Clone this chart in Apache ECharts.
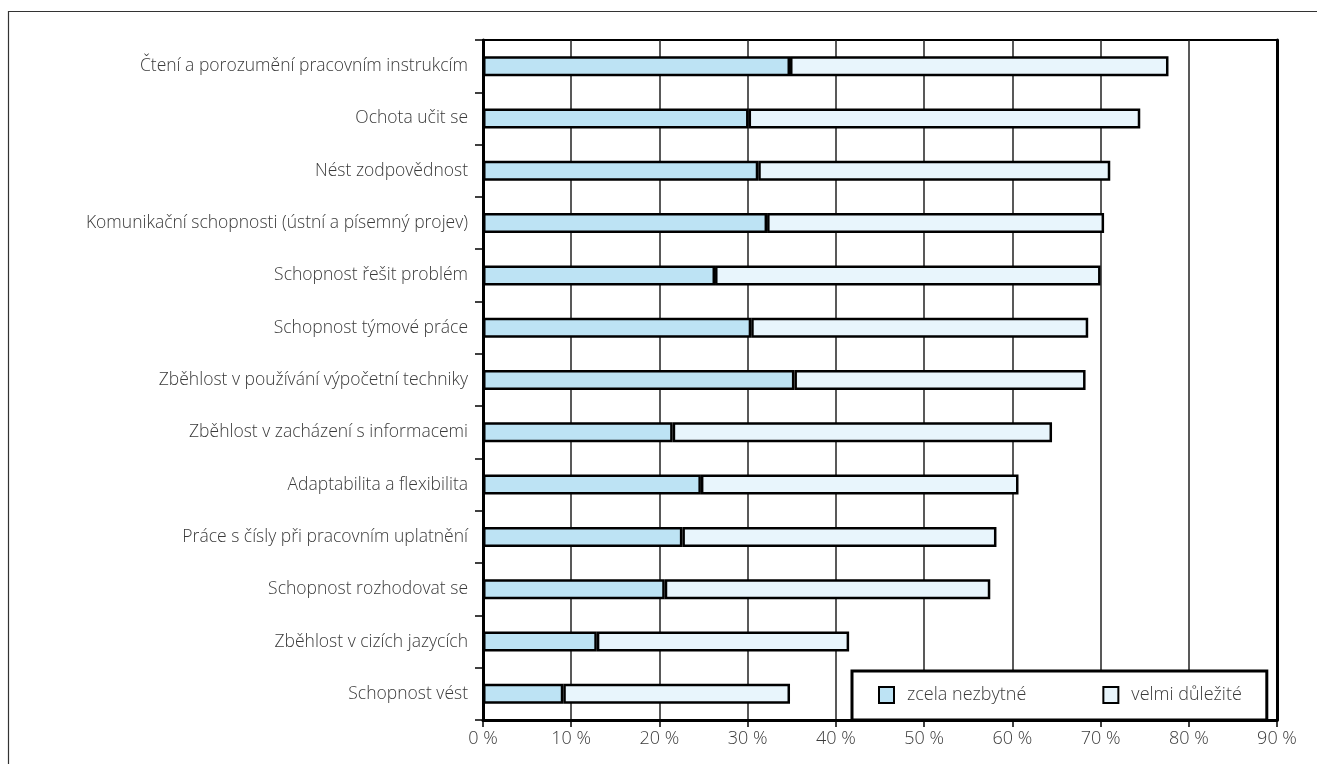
<!DOCTYPE html>
<html>
<head>
<meta charset="utf-8">
<script src="https://cdn.jsdelivr.net/npm/echarts@6/dist/echarts.min.js"></script>
<style>
html,body{margin:0;padding:0;background:#fff;}
#chart{width:1317px;height:764px;}
</style>
</head>
<body>
<div id="chart"></div>
<script>
const categories = [
  'Čtení a porozumění pracovním instrukcím',
  'Ochota učit se',
  'Nést zodpovědnost',
  'Komunikační schopnosti (ústní a písemný projev)',
  'Schopnost řešit problém',
  'Schopnost týmové práce',
  'Zběhlost v používání výpočetní techniky',
  'Zběhlost v zacházení s informacemi',
  'Adaptabilita a flexibilita',
  'Práce s čísly při pracovním uplatnění',
  'Schopnost rozhodovat se',
  'Zběhlost v cizích jazycích',
  'Schopnost vést'
];
const seriesNames = ['zcela nezbytné', 'velmi důležité'];
const essential = [34.8, 30.1, 31.2, 32.2, 26.3, 30.4, 35.3, 21.5, 24.7, 22.6, 20.6, 12.9, 9.1];
const important = [42.9, 44.4, 39.9, 38.2, 43.7, 38.2, 33.0, 43.0, 36.0, 35.6, 36.9, 28.6, 25.7];
const xTicks = [0, 10, 20, 30, 40, 50, 60, 70, 80, 90];

const FONT = 'Open Sans';
const chart = echarts.init(document.getElementById('chart'), null, {renderer: 'canvas'});
chart.setOption({
  animation: false,
  backgroundColor: '#fff',
  graphic: [{
    type: 'polyline',
    shape: {points: [[8.5, 764], [8.5, 11.5], [1317, 11.5]]},
    style: {stroke: '#333', lineWidth: 1.2, fill: null},
    silent: true
  }],
  grid: {
    left: 483, right: 40, top: 40, bottom: 44,
    show: true, borderColor: '#000', borderWidth: 2, backgroundColor: 'transparent'
  },
  legend: {
    data: seriesNames,
    left: 852, top: 671,
    orient: 'horizontal',
    icon: 'rect',
    itemWidth: 15, itemHeight: 16,
    itemGap: 76,
    padding: [15, 25, 16, 26],
    borderColor: '#000', borderWidth: 3, backgroundColor: '#fff',
    textStyle: {fontFamily: FONT, fontWeight: 300, fontSize: 18, color: '#3a3a3a', padding: [0, 0, 0, 8]},
    selectedMode: false
  },
  xAxis: {
    type: 'value', min: 0, max: 90, interval: 10,
    axisLine: {show: true, lineStyle: {color: '#000', width: 3}},
    axisTick: {show: true, length: 7, lineStyle: {color: '#000', width: 1.5}},
    axisLabel: {
      formatter: v => xTicks.includes(v) ? v + ' %' : '',
      fontFamily: FONT, fontWeight: 300, fontSize: 18, color: '#3a3a3a', margin: 10
    },
    splitLine: {show: true, lineStyle: {color: '#222', width: 1.5}}
  },
  yAxis: [{
    type: 'category', data: categories, inverse: true,
    axisLine: {show: true, lineStyle: {color: '#000', width: 3}},
    axisTick: {show: true, length: 8, lineStyle: {color: '#000', width: 1.5}},
    axisLabel: {fontFamily: FONT, fontWeight: 300, fontSize: 17.5, color: '#3a3a3a', margin: 15}
  }, {
    type: 'category', data: categories, inverse: true, position: 'right',
    axisLine: {show: true, lineStyle: {color: '#000', width: 3}},
    axisTick: {show: false}, axisLabel: {show: false}, splitLine: {show: false}
  }],
  series: [{
    name: seriesNames[0], type: 'bar', stack: 'total', data: essential, barWidth: 20,
    itemStyle: {color: '#BDE3F4', borderColor: '#000', borderWidth: 2.5}
  }, {
    name: seriesNames[1], type: 'bar', stack: 'total', data: important, barWidth: 20,
    itemStyle: {color: '#E8F5FC', borderColor: '#000', borderWidth: 2.5}
  }]
});
</script>
</body>
</html>
